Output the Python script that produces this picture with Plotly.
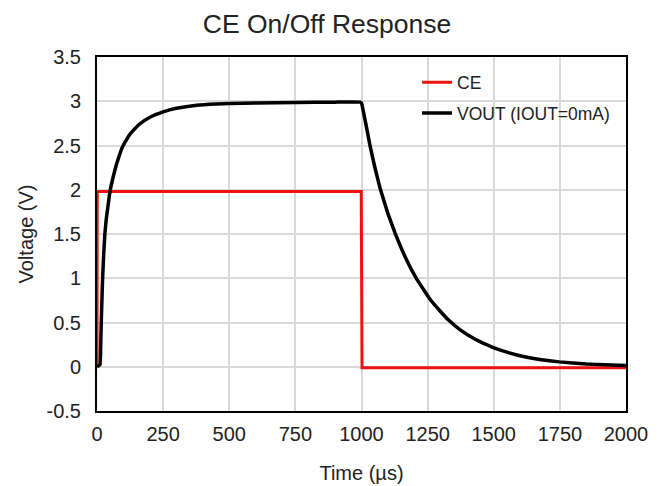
import plotly.graph_objects as go

# CE signal
ce_t = [0, 1, 999, 1002, 2000]
ce_v = [0.0, 1.98, 1.98, -0.01, -0.01]

# VOUT (IOUT=0mA)
vout_t = [0, 11, 14, 17, 21, 25, 30, 35, 40, 49, 60, 75, 97, 125, 160, 200, 250, 300, 377,
          450, 500, 600, 750, 900, 995, 1000, 1010, 1020, 1032, 1050, 1070, 1100, 1127, 1170,
          1209, 1260, 1297, 1328, 1372, 1430, 1496, 1550, 1599, 1680, 1748, 1850, 1920, 2000]
vout_v = [0.0, 0.02, 0.25, 0.6, 0.98, 1.25, 1.51, 1.67, 1.78, 1.98, 2.13, 2.30, 2.49, 2.63,
          2.74, 2.82, 2.88, 2.92, 2.955, 2.97, 2.975, 2.98, 2.985, 2.99, 2.99, 2.98, 2.84, 2.69,
          2.50, 2.26, 2.02, 1.73, 1.51, 1.21, 0.99, 0.76, 0.63, 0.53, 0.42, 0.31, 0.22, 0.165,
          0.125, 0.08, 0.055, 0.032, 0.022, 0.015]

x_ticks = [0, 250, 500, 750, 1000, 1250, 1500, 1750, 2000]
y_ticks = [-0.5, 0, 0.5, 1, 1.5, 2, 2.5, 3, 3.5]
y_tick_text = ["-0.5", "0", "0.5", "1", "1.5", "2", "2.5", "3", "3.5"]

FONT = "Liberation Sans, Arial, sans-serif"

fig = go.Figure()
fig.add_trace(go.Scatter(x=ce_t, y=ce_v, mode="lines", name="CE",
                         line=dict(color="#ee1111", width=3), legendgroup="a"))
fig.add_trace(go.Scatter(x=vout_t, y=vout_v, mode="lines", name="VOUT (IOUT=0mA)",
                         line=dict(color="#000000", width=3.5, shape="spline", smoothing=0.3),
                         legendgroup="b"))

fig.add_shape(type="rect", xref="paper", yref="paper", x0=0.501, x1=0.983, y0=0.785, y1=0.983,
              fillcolor="white", line=dict(width=0), layer="between")

fig.update_layout(
    width=666, height=486,
    margin=dict(l=89, r=48, t=49, b=83, autoexpand=False),
    paper_bgcolor="white", plot_bgcolor="white",
    font=dict(family=FONT, color="#222222", size=20),
    title=dict(text="CE On/Off Response", x=0.479, xanchor="center", y=0.967, yanchor="middle",
               font=dict(size=26.5, color="#222222"), automargin=False),
    showlegend=True,
    legend=dict(x=0.605, xanchor="left", y=0.979, yanchor="top", bgcolor="rgba(0,0,0,0)",
                font=dict(size=17.5, color="#222222"), tracegroupgap=5, traceorder="grouped"),
    xaxis=dict(range=[0, 2000], tickvals=x_ticks, showgrid=True, gridcolor="#d9d9d9", gridwidth=1.5,
               showline=True, linecolor="black", linewidth=2, mirror=True, zeroline=False,
               ticks="", ticklabelstandoff=4, automargin=False,
               title=dict(text="Time (µs)", font=dict(size=20), standoff=22)),
    yaxis=dict(range=[-0.5, 3.5], tickvals=y_ticks, ticktext=y_tick_text, showgrid=True,
               gridcolor="#d9d9d9", gridwidth=1.5, showline=True, linecolor="black", linewidth=2,
               mirror=True, zeroline=False, ticks="", ticklabelstandoff=10, automargin=False,
               title=dict(text="Voltage (V)", font=dict(size=20), standoff=8)),
)

fig.write_html("out.html")
